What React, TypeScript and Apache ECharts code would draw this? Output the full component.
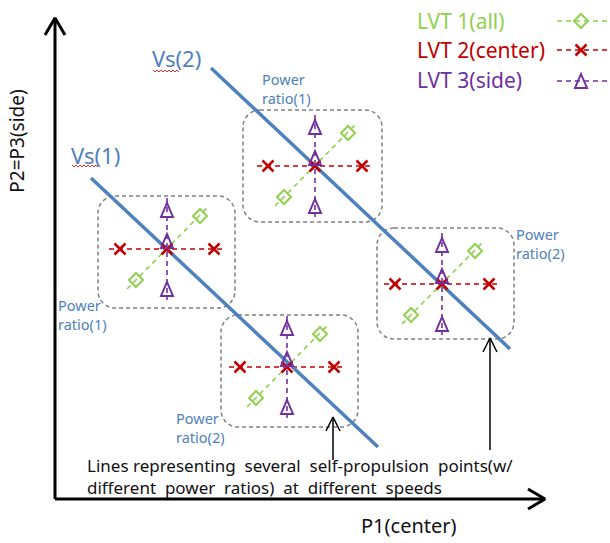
import React, { useEffect, useRef } from "react";
import * as echarts from "echarts";

const W = 610;
const H = 543;

// ---- diagram data (picture coordinates) ----
const clusterCenters: [number, number][] = [
  [167, 249],
  [315, 166],
  [287, 367],
  [442, 284],
];
const clusterBoxes: [number, number, number, number][] = [
  [98, 196, 137, 112],
  [243, 110, 139, 112],
  [221, 315, 137, 112],
  [377, 228, 137, 111],
];
const centerOffsetsX = [-47, 0, 47];
const sideOffsetsY = [-39, -8, 40];
const allOffsets: [number, number][] = [
  [33, -33],
  [-31, 31],
];
const centerLineSpan = [-58, 59];
const sideLineSpan = [-51, 51];
const allLineSpan: [number, number][] = [
  [-40, 40],
  [42, -43],
];
const speedLines: [number, number][][] = [
  [
    [91, 178],
    [378, 447],
  ],
  [
    [211, 68],
    [510, 349],
  ],
];
const axisY: [number, number][] = [
  [55, 499],
  [55, 18],
];
const axisX: [number, number][] = [
  [55, 499],
  [545, 499],
];
const pointers: [number, number][][] = [
  [
    [333, 460],
    [333, 417],
  ],
  [
    [490, 450],
    [490, 338],
  ],
];
const legendNames = ["LVT 1(all)", "LVT 2(center)", "LVT 3(side)"];
const legendRows = [21, 50, 81];

const GREEN = "#92D050";
const RED = "#C00000";
const PURPLE = "#7030A0";
const BLUE = "#4F81BD";
const FONT = '"Noto Sans", "Open Sans", sans-serif';

function chevron(tip: [number, number], from: [number, number], len: number, half: number) {
  const dx = tip[0] - from[0];
  const dy = tip[1] - from[1];
  const d = Math.hypot(dx, dy);
  const ux = dx / d;
  const uy = dy / d;
  const bx = tip[0] - ux * len;
  const by = tip[1] - uy * len;
  return [
    [bx - uy * half, by + ux * half],
    tip,
    [bx + uy * half, by - ux * half],
  ];
}

function lineSeries(data: number[][], color: string, width: number, dashed = false, z = 2) {
  return {
    type: "line",
    data,
    symbol: "none",
    silent: true,
    z,
    lineStyle: { color, width, type: dashed ? [5, 4] : "solid", cap: "butt" },
  };
}

const CROSS = "path://M0,0L10,10M10,0L0,10";

function txt(text: string, x: number, y: number, size: number, color: string, extra: any = {}) {
  return {
    type: "text",
    x,
    y,
    silent: true,
    z: 100,
    ...extra,
    style: {
      text,
      fill: color,
      font: `${size}px ${FONT}`,
      align: "left",
      textAlign: "left",
      verticalAlign: "middle",
      textVerticalAlign: "middle",
      lineHeight: extra.lineHeight || size * 1.3,
      ...(extra.style || {}),
    },
  };
}

function wavy(x0: number, x1: number, y: number) {
  const pts: number[][] = [];
  let up = true;
  for (let x = x0; x <= x1; x += 2) {
    pts.push([x, up ? y - 1 : y + 1]);
    up = !up;
  }
  return {
    type: "polyline",
    silent: true,
    z: 100,
    shape: { points: pts },
    style: { stroke: "#E03030", lineWidth: 1, fill: "none" },
  };
}

export default function App() {
  const ref = useRef<HTMLDivElement>(null);

  useEffect(() => {
    document.body.style.margin = "0";
    if (!ref.current) return;
    const chart = echarts.init(ref.current, undefined, { renderer: "svg" });

    const series: any[] = [];

    // boxes
    series.push({
      type: "custom",
      silent: true,
      z: 1,
      data: clusterBoxes,
      renderItem: (_p: any, api: any) => {
        const p1 = api.coord([api.value(0), api.value(1)]);
        const p2 = api.coord([api.value(0) + api.value(2), api.value(1) + api.value(3)]);
        return {
          type: "rect",
          shape: { x: p1[0], y: p1[1], width: p2[0] - p1[0], height: p2[1] - p1[1], r: 17 },
          style: { fill: "none", stroke: "#808080", lineWidth: 1.5, lineDash: [4, 3] },
        };
      },
    });

    // axes
    series.push(lineSeries(axisY, "#000", 3));
    series.push(lineSeries(axisX, "#000", 3));
    series.push(lineSeries(chevron(axisY[1], axisY[0], 17, 10), "#000", 3));
    series.push(lineSeries(chevron(axisX[1], axisX[0], 17, 10), "#000", 3));

    // pointers
    pointers.forEach((p) => {
      series.push(lineSeries(p, "#000", 1.5));
      series.push(lineSeries(chevron(p[1], p[0], 14, 7), "#000", 1.5));
    });

    // dashed cluster lines
    clusterCenters.forEach(([cx, cy]) => {
      series.push(lineSeries([[cx + centerLineSpan[0], cy], [cx + centerLineSpan[1], cy]], RED, 1.6, true, 3));
      series.push(lineSeries([[cx, cy + sideLineSpan[0]], [cx, cy + sideLineSpan[1]]], PURPLE, 1.6, true, 3));
      series.push(
        lineSeries(
          allLineSpan.map(([dx, dy]) => [cx + dx, cy + dy]),
          GREEN,
          1.6,
          true,
          3
        )
      );
    });

    // speed lines
    speedLines.forEach((l) => series.push(lineSeries(l, BLUE, 3.5, false, 4)));

    // markers
    const greenPts: number[][] = [];
    const redPts: number[][] = [];
    const purplePts: number[][] = [];
    clusterCenters.forEach(([cx, cy]) => {
      allOffsets.forEach(([dx, dy]) => greenPts.push([cx + dx, cy + dy]));
      centerOffsetsX.forEach((dx) => redPts.push([cx + dx, cy]));
      sideOffsetsY.forEach((dy) => purplePts.push([cx, cy + dy]));
    });

    // legend lines
    legendRows.forEach((y, i) => {
      const c = [GREEN, RED, PURPLE][i];
      series.push(lineSeries([[557, y], [607, y]], c, 1.6, true, 3));
      if (i === 0) greenPts.push([581, y]);
      if (i === 1) redPts.push([581, y]);
      if (i === 2) purplePts.push([581, y]);
    });

    const scatter = (data: number[][], symbol: string, size: any, color: string, bw: number) => ({
      type: "scatter",
      data,
      symbol,
      symbolSize: size,
      silent: true,
      z: 5,
      itemStyle: { color: "rgba(0,0,0,0)", borderColor: color, borderWidth: bw, opacity: 1 },
    });
    series.push(scatter(greenPts, "diamond", [14, 14], GREEN, 2));
    series.push(scatter(redPts, CROSS, [11, 11], RED, 2.5));
    series.push(scatter(purplePts, "triangle", [12, 14], PURPLE, 2));

    const graphic: any[] = [
      txt("Vs(2)", 152, 58, 22, BLUE),
      wavy(153, 180, 71),
      txt("Vs(1)", 71, 155, 22, BLUE),
      wavy(72, 99, 166),
      txt("Power\nratio(1)", 262, 88, 14.5, BLUE, { lineHeight: 19 }),
      txt("Power\nratio(1)", 58, 314, 14.5, BLUE, { lineHeight: 19 }),
      txt("Power\nratio(2)", 176, 427, 14.5, BLUE, { lineHeight: 19 }),
      txt("Power\nratio(2)", 516, 243, 14.5, BLUE, { lineHeight: 19 }),
      txt(legendNames[0], 417, 21, 21, GREEN),
      txt(legendNames[1], 417, 50, 21, RED),
      txt(legendNames[2], 417, 80, 21, PURPLE),
      txt("P2=P3(side)", 17, 141, 19, "#111", {
        rotation: Math.PI / 2,
        style: { align: "center", textAlign: "center" },
      }),
      txt("P1(center)", 361, 525, 20, "#111"),
      txt("Lines representing  several  self-propulsion  points(w/", 87, 465, 17, "#111"),
      txt("different  power  ratios)  at  different  speeds", 87, 487, 17, "#111"),
    ];

    chart.setOption({
      animation: false,
      backgroundColor: "#fff",
      grid: { left: 0, right: 0, top: 0, bottom: 0 },
      xAxis: { type: "value", min: 0, max: W, show: false },
      yAxis: { type: "value", min: 0, max: H, inverse: true, show: false },
      series,
      graphic,
    });

    return () => chart.dispose();
  }, []);

  return <div ref={ref} style={{ width: W, height: H }} />;
}
